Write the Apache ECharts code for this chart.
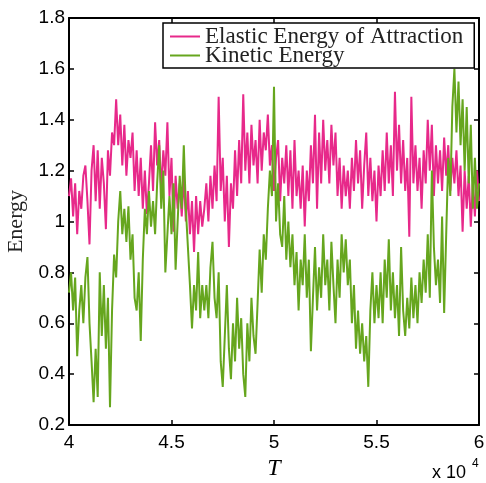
<!DOCTYPE html>
<html><head><meta charset="utf-8">
<script src="https://cdn.jsdelivr.net/npm/echarts@6/dist/echarts.min.js"></script>
<style>html,body{margin:0;padding:0;background:#fff}#c{width:486px;height:483px}</style>
</head><body><div id="c"></div>
<script>
const tStart = 40000, tStep = 100;
const xTicks = ['4', '4.5', '5', '5.5', '6'];
const seriesNames = ['Elastic Energy of Attraction', 'Kinetic Energy'];
const elastic = [
1.10,1.17,1.02,1.15,0.95,1.12,1.05,1.18,1.22,1.08,
0.91,1.20,1.30,1.08,1.28,1.05,1.25,1.15,0.97,1.28,
1.18,1.35,1.30,1.48,1.30,1.42,1.22,1.38,1.18,1.32,
1.25,1.35,1.12,1.28,1.10,1.25,1.05,1.20,1.03,1.15,
1.30,1.12,1.39,1.22,1.32,1.12,1.28,1.18,1.39,1.10,
1.25,0.96,1.18,1.05,1.15,1.02,1.18,1.00,1.12,0.95,
1.08,0.88,1.10,0.95,1.08,0.98,1.05,1.15,1.00,1.18,
1.05,1.22,1.08,1.49,1.12,1.25,1.00,1.18,0.90,1.15,
1.05,1.28,1.10,1.32,1.15,1.50,1.20,1.35,1.15,1.38,
1.22,1.32,1.15,1.40,1.20,1.35,1.28,1.42,1.22,1.30,
1.12,1.25,1.32,1.08,1.25,1.15,1.30,1.10,1.28,1.05,
1.32,1.10,1.20,1.05,1.22,0.98,1.20,1.08,1.30,1.15,
1.42,1.05,1.35,1.15,1.40,1.20,1.32,1.15,1.38,1.22,
1.35,1.10,1.25,1.05,1.22,1.10,1.20,1.05,1.25,1.12,
1.32,1.15,1.28,1.05,1.22,1.35,1.10,1.25,1.08,1.20,
1.00,1.22,1.10,1.28,1.12,1.35,1.15,1.30,1.10,1.51,
1.20,1.38,1.15,1.32,1.12,1.25,0.94,1.49,1.15,1.30,
1.12,1.25,1.05,1.28,1.15,1.40,1.20,1.38,1.10,1.30,
1.15,1.28,1.12,1.33,1.18,1.30,1.12,1.25,1.15,1.28,
1.10,1.22,0.96,1.20,1.05,1.18,0.98,1.15,1.02,1.20,
1.08];
const kinetic = [
0.72,0.80,0.65,0.78,0.47,0.65,0.75,0.60,0.78,0.86,
0.60,0.45,0.29,0.50,0.31,0.80,0.55,0.75,0.50,0.70,
0.27,0.65,0.87,0.78,1.00,1.12,0.95,1.05,0.92,1.06,
0.85,0.95,0.70,0.65,0.80,0.53,0.85,1.05,0.95,1.12,
0.98,1.08,0.95,1.15,1.30,1.05,1.20,0.80,0.95,1.10,
0.95,1.15,0.81,1.00,1.18,1.05,1.30,1.05,0.90,0.75,
0.58,0.75,0.65,0.88,0.62,0.75,0.65,0.75,0.62,0.82,
0.92,0.70,0.62,0.80,0.45,0.35,0.55,0.75,0.50,0.38,
0.60,0.45,0.70,0.50,0.62,0.40,0.31,0.60,0.45,0.70,
0.55,0.48,0.68,0.89,0.72,0.95,0.85,1.05,1.20,1.10,
1.53,1.00,1.15,0.95,0.90,1.10,0.85,1.00,0.82,0.95,
0.75,0.88,0.65,0.85,0.75,0.95,0.70,0.85,0.49,0.70,
0.90,0.65,0.82,0.70,0.95,0.75,0.85,0.65,0.92,0.75,
0.60,0.85,0.70,0.95,0.80,0.93,0.75,0.85,0.60,0.75,
0.50,0.65,0.48,0.60,0.45,0.55,0.35,0.65,0.80,0.60,
0.75,0.62,0.80,0.60,0.85,0.70,0.93,0.65,0.80,0.62,
0.75,0.55,0.90,0.65,0.55,0.70,0.58,0.78,0.62,0.75,
0.60,0.80,0.68,0.85,0.72,0.95,0.70,1.20,0.90,0.75,
0.85,0.68,1.02,0.64,0.95,1.25,1.10,1.45,1.60,1.35,
1.55,1.30,1.48,1.20,1.45,1.15,1.38,1.05,1.25,1.05,
1.15];

const toPairs = arr => arr.map((v, i) => [tStart + i * tStep, v]);
const tickFont = {fontFamily: 'Liberation Sans', fontSize: 19, color: '#000'};
const serif = 'Liberation Serif';

const chart = echarts.init(document.getElementById('c'));
chart.setOption({
  animation: false,
  backgroundColor: '#fff',
  grid: {left: 69, right: 7, top: 18, bottom: 58, containLabel: false, outerBoundsMode: 'none'},
  legend: {
    left: 163, top: 23,
    orient: 'vertical',
    backgroundColor: '#fff',
    borderColor: '#000', borderWidth: 1.5, borderRadius: 0,
    padding: [2, 11, 1, 7],
    itemGap: -4,
    itemWidth: 30, itemHeight: 2,
    icon: 'rect',
    textStyle: {fontFamily: serif, fontSize: 23, color: '#222', lineHeight: 20},
    data: seriesNames
  },
  xAxis: [{
    type: 'value', min: 40000, max: 60000, interval: 5000,
    name: 'T', nameLocation: 'middle', nameGap: 22,
    nameTextStyle: {fontFamily: serif, fontStyle: 'italic', fontSize: 24, color: '#000'},
    axisLine: {show: true, lineStyle: {color: '#000', width: 2}},
    axisTick: {show: true, inside: true, length: 5, lineStyle: {color: '#000', width: 1.5}},
    axisLabel: Object.assign({margin: 8, formatter: (v) => xTicks[Math.round((v - 40000) / 5000)]}, tickFont),
    splitLine: {show: false}
  }, {
    type: 'value', position: 'top', min: 40000, max: 60000, interval: 5000,
    axisLine: {show: true, lineStyle: {color: '#000', width: 2}},
    axisTick: {show: true, inside: true, length: 5, lineStyle: {color: '#000', width: 1.5}},
    axisLabel: {show: false}, splitLine: {show: false}
  }],
  yAxis: [{
    type: 'value', min: 0.2, max: 1.8, interval: 0.2,
    name: 'Energy', nameLocation: 'middle', nameGap: 36, nameRotate: 90,
    nameTextStyle: {fontFamily: serif, fontSize: 22, color: '#222'},
    axisLine: {show: true, lineStyle: {color: '#000', width: 2}},
    axisTick: {show: true, inside: true, length: 5, lineStyle: {color: '#000', width: 1.5}},
    axisLabel: Object.assign({margin: 4, formatter: (v) => String(+v.toFixed(1))}, tickFont),
    splitLine: {show: false}
  }, {
    type: 'value', position: 'right', min: 0.2, max: 1.8, interval: 0.2,
    axisLine: {show: true, lineStyle: {color: '#000', width: 2}},
    axisTick: {show: true, inside: true, length: 5, lineStyle: {color: '#000', width: 1.5}},
    axisLabel: {show: false}, splitLine: {show: false}
  }],
  series: [{
    name: seriesNames[0], type: 'line', data: toPairs(elastic),
    showSymbol: false, symbol: 'none', color: '#E7298A',
    lineStyle: {width: 2, color: '#E7298A'}, z: 2
  }, {
    name: seriesNames[1], type: 'line', data: toPairs(kinetic),
    showSymbol: false, symbol: 'none', color: '#66A61E',
    lineStyle: {width: 2, color: '#66A61E'}, z: 3
  }],
  graphic: [
    {type: 'text', left: 432, top: 464, style: {text: 'x 10', font: '18px "Liberation Sans"', fill: '#000'}},
    {type: 'text', left: 472, top: 458, style: {text: '4', font: '12px "Liberation Sans"', fill: '#000'}}
  ]
});
</script></body></html>
